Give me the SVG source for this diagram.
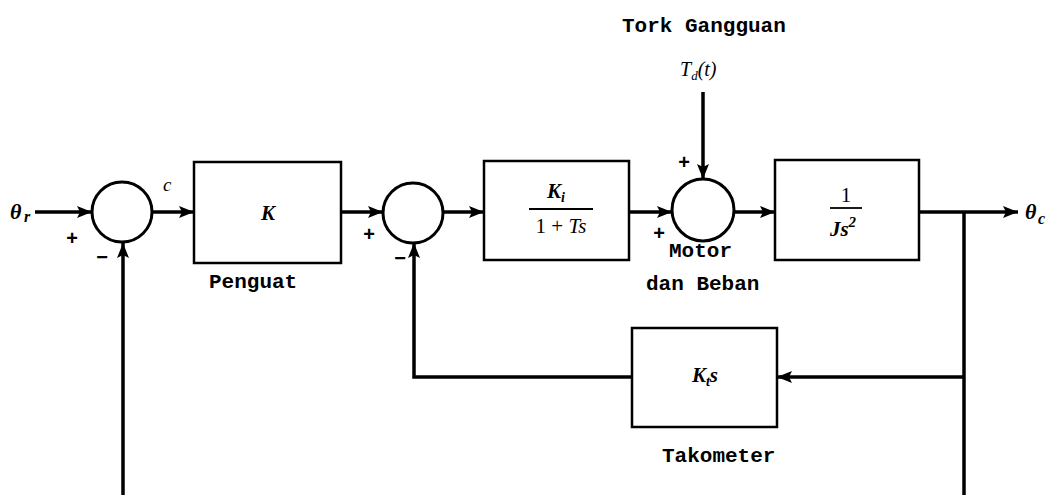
<svg xmlns="http://www.w3.org/2000/svg" width="1047" height="495" viewBox="0 0 1047 495">
<style>
.box{fill:#fff;stroke:#000;stroke-width:2.5}
.sum{fill:#fff;stroke:#000;stroke-width:3}
.wire{fill:none;stroke:#000;stroke-width:3.5}
.lbl{font-family:"Liberation Mono",monospace;font-weight:bold;font-size:21px;fill:#000}
.math{font-family:"Liberation Serif",serif;font-style:italic;font-weight:bold;fill:#000}
.mathn{font-family:"Liberation Serif",serif;font-style:italic;font-weight:normal;fill:#000}
.up{font-style:normal}
.sign{font-family:"Liberation Sans",sans-serif;font-weight:bold;font-size:20px;fill:#000;text-anchor:middle}
</style>
<defs>
<marker id="ah" markerUnits="userSpaceOnUse" markerWidth="16" markerHeight="12" refX="15" refY="6" orient="auto">
<path d="M0,0 L15,6 L0,12 L3,6 Z" fill="#000"/>
</marker>
</defs>
<rect width="1047" height="495" fill="#fff"/>
<g id="connectors">
<line class="wire" x1="35" y1="212" x2="92" y2="212" marker-end="url(#ah)"/>
<line class="wire" x1="152" y1="212" x2="194" y2="212" marker-end="url(#ah)"/>
<line class="wire" x1="123" y1="495" x2="123" y2="243" marker-end="url(#ah)"/>
<line class="wire" x1="341" y1="212" x2="383" y2="212" marker-end="url(#ah)"/>
<line class="wire" x1="443" y1="212" x2="484" y2="212" marker-end="url(#ah)"/>
<line class="wire" x1="629" y1="212" x2="672" y2="212" marker-end="url(#ah)"/>
<line class="wire" x1="703" y1="92" x2="703" y2="179" marker-end="url(#ah)"/>
<line class="wire" x1="734" y1="212" x2="775" y2="212" marker-end="url(#ah)"/>
<line class="wire" x1="919" y1="212" x2="1018" y2="212" marker-end="url(#ah)"/>
<line class="wire" x1="964" y1="212" x2="964" y2="495"/>
<line class="wire" x1="964" y1="377" x2="777" y2="377" marker-end="url(#ah)"/>
<polyline class="wire" points="632,377 414,377 414,243" marker-end="url(#ah)"/>
</g>
<g id="sum1">
<circle class="sum" cx="122" cy="212" r="30"/>
<text class="sign" x="72" y="245">+</text>
<text class="sign" x="102" y="264">−</text>
</g>
<g id="input">
<text class="math" x="10" y="219" font-size="22">θ</text>
<text class="math" x="24" y="222" font-size="16">r</text>
<text class="mathn" x="163" y="191" font-size="19">c</text>
</g>
<g id="amp">
<rect class="box" x="194" y="162" width="147" height="101"/>
<text class="math" x="268" y="220" font-size="21" text-anchor="middle">K</text>
<text class="lbl" x="209" y="288">Penguat</text>
</g>
<g id="sum2">
<circle class="sum" cx="413" cy="213" r="30"/>
<text class="sign" x="369" y="241">+</text>
<text class="sign" x="400" y="265">−</text>
</g>
<g id="driver">
<rect class="box" x="484" y="161" width="145" height="99"/>
<text class="math" x="556" y="198" font-size="21" text-anchor="middle">K<tspan font-size="14" dy="4">i</tspan></text>
<line x1="529" y1="209" x2="593" y2="209" stroke="#000" stroke-width="1.8"/>
<text class="mathn" x="561" y="233" font-size="21" text-anchor="middle"><tspan class="up">1 + </tspan>Ts</text>
</g>
<g id="sum3">
<circle class="sum" cx="703" cy="210" r="31"/>
<text class="sign" x="684" y="169">+</text>
<text class="sign" x="659" y="240">+</text>
<text class="lbl" x="669" y="257">Motor</text>
<text class="lbl" x="646" y="290">dan Beban</text>
</g>
<g id="disturbance">
<text class="lbl" x="622" y="32">Tork Gangguan</text>
<text class="mathn" x="680" y="76" font-size="20">T<tspan font-size="13" dy="4">d</tspan><tspan dy="-4">(t)</tspan></text>
</g>
<g id="plant">
<rect class="box" x="775" y="160" width="144" height="100"/>
<text class="mathn up" x="846" y="202" font-size="21" text-anchor="middle">1</text>
<line x1="830" y1="208" x2="862" y2="208" stroke="#000" stroke-width="1.8"/>
<text class="math" x="843" y="236" font-size="21" text-anchor="middle">Js<tspan font-size="15" dy="-9">2</tspan></text>
</g>
<g id="output">
<text class="math" x="1025" y="219" font-size="22">θ</text>
<text class="math" x="1038" y="224" font-size="16">c</text>
</g>
<g id="tacho">
<rect class="box" x="632" y="328" width="145" height="99"/>
<text class="math" x="705" y="382" font-size="21" text-anchor="middle">K<tspan font-size="14" dy="4">t</tspan><tspan dy="-4">s</tspan></text>
<text class="lbl" x="662" y="462">Takometer</text>
</g>
</svg>
